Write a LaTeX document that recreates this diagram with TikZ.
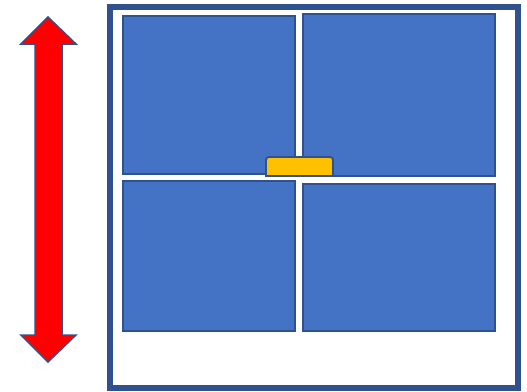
\documentclass[tikz,border=0pt]{standalone}
\usetikzlibrary{calc}
\definecolor{paneblue}{HTML}{4472C4}
\definecolor{edgeblue}{HTML}{2F528F}
\definecolor{handleyellow}{HTML}{FFC000}
\tikzset{
  pane/.style={fill=paneblue, draw=edgeblue, line width=1.5pt},
  framebox/.style={draw=edgeblue, line width=6pt},
  handlebox/.style={fill=handleyellow, draw=edgeblue, line width=1.8pt},
  arrowshape/.style={fill=red, draw=edgeblue, line width=1.5pt, line join=miter}
}
\begin{document}
\begin{tikzpicture}[x=1pt,y=-1pt]
\useasboundingbox (0,0) rectangle (527,391);
% frame
\draw[framebox] (110,6.5) rectangle (517.5,388);
% panes
\draw[pane] (123,16) rectangle (295,174);
\draw[pane] (303,14) rectangle (495,176);
\draw[pane] (123,181) rectangle (295,331);
\draw[pane] (303,184) rectangle (495,331);
% handle
\draw[handlebox] (266,176) -- (266,160) arc[start angle=180, end angle=270, radius=3] -- (330,157)
  arc[start angle=270, end angle=360, radius=3] -- (333,176) -- cycle;
% double arrow
\draw[arrowshape] (48,17) -- (76,44) -- (62,44) -- (62,335) -- (76,335) -- (48,362)
  -- (21,335) -- (35,335) -- (35,44) -- (21,44) -- cycle;
\end{tikzpicture}
\end{document}
